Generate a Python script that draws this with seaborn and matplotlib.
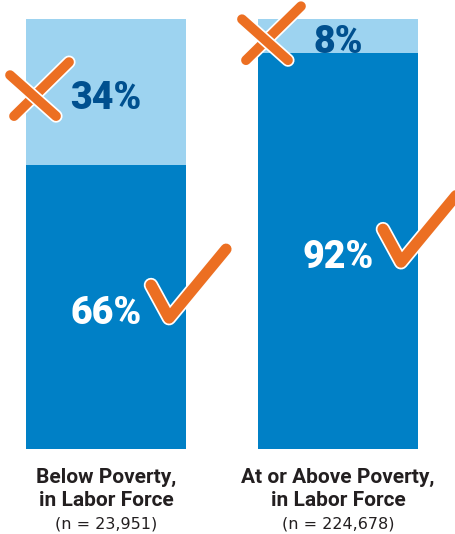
import matplotlib
matplotlib.use('Agg')
import matplotlib.pyplot as plt
import matplotlib.patheffects as pe
import seaborn as sns

# data
categories = ['Below Poverty,\nin Labor Force', 'At or Above Poverty,\nin Labor Force']
sample_sizes = ['(n = 23,951)', '(n = 224,678)']
in_labor = [66, 92]       # dark part (check mark)
not_labor = [34, 8]       # light part (x mark)

dark = '#0080C6'
light = '#9DD3F0'
navy = '#00508F'
orange = '#EC6F22'

sns.set_theme(style='white')
plt.rcParams['font.family'] = ['Roboto', 'DejaVu Sans']

fig = plt.figure(figsize=(4.55, 5.34), dpi=100)
ax = fig.add_axes([26 / 455, 85 / 534, 392 / 455, 430 / 534])

totals = [a + b for a, b in zip(in_labor, not_labor)]
sns.barplot(x=categories, y=totals, color=light, width=0.69, saturation=1, linewidth=0, ax=ax)
sns.barplot(x=categories, y=in_labor, color=dark, width=0.69, saturation=1, linewidth=0, ax=ax)
ax.set_xlim(-0.345, 1.345)
ax.set_ylim(0, 100)
ax.axis('off')

fig.canvas.draw()


def draw_stroke(cx, cy, pts, lw):
    xs = [cx + p[0] for p in pts]
    ys = [cy - p[1] for p in pts]
    ln = plt.Line2D(xs, ys, transform=None, color=orange, lw=lw,
                    solid_capstyle='round', solid_joinstyle='round', zorder=5)
    ln.set_path_effects([pe.Stroke(linewidth=lw + 2.5, foreground='white'), pe.Normal()])
    fig.add_artist(ln)


for i in range(2):
    # percentage labels
    y_light = in_labor[i] + not_labor[i] / 2
    y_dark = in_labor[i] / 2
    ax.text(i, y_light - 1.5, f'{not_labor[i]}%', ha='center', va='center', color=navy,
            fontsize=27, fontweight='black')
    ax.text(i, y_dark - 1.5, f'{in_labor[i]}%', ha='center', va='center', color='white',
            fontsize=27, fontweight='black')
    # x mark
    cx, cy = ax.transData.transform((i, y_light))
    draw_stroke(cx, cy, [(-37, -30), (-92, 24)], 7)
    draw_stroke(cx, cy, [(-96, -17), (-50, 24)], 7)
    # check mark
    cx, cy = ax.transData.transform((i, y_dark))
    draw_stroke(cx, cy, [(45, -22), (63, 11), (120, -58)], 8)
    # category labels
    fig.text(cx / 455, 1 - 489 / 534, categories[i], ha='center', va='center',
             fontsize=15, fontweight='bold', color='#231F20', linespacing=1.3)
    fig.text(cx / 455, 1 - 524 / 534, sample_sizes[i], ha='center', va='center',
             fontsize=11.5, color='#231F20', family=['DejaVu Sans'])

fig.savefig('out.png', dpi=100)
